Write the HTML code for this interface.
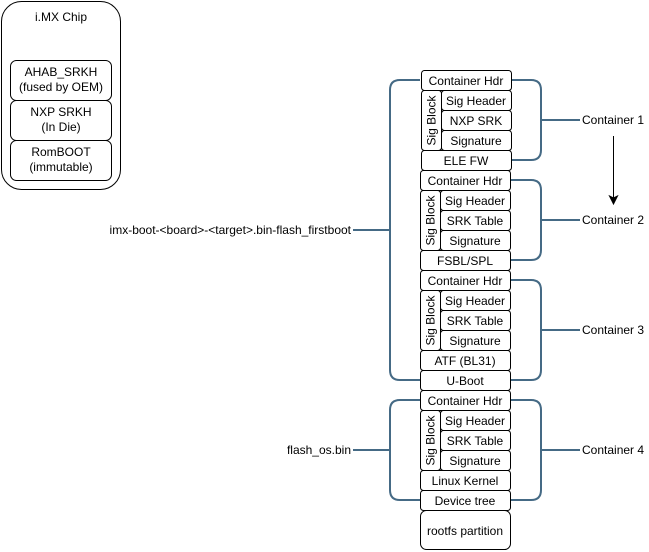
<!DOCTYPE html>
<html><head><meta charset="utf-8"><style>
html,body{margin:0;padding:0;background:#fff;}
svg{display:block;font-family:"Liberation Sans",Arial,sans-serif;font-size:12px;}
</style></head><body>
<svg width="649" height="552" viewBox="0 0 649 552" xmlns="http://www.w3.org/2000/svg">
<g fill="#fff" stroke="#000" stroke-width="1">
<rect x="1.5" y="1.5" width="119" height="188" rx="20"/>
<rect x="10.5" y="60.5" width="101" height="40" rx="6"/>
<rect x="10.5" y="100.5" width="101" height="40" rx="6"/>
<rect x="10.5" y="140.5" width="101" height="40" rx="6"/>
</g>
<g text-anchor="middle" fill="#000">
<text x="61" y="21">i.MX Chip</text>
<text x="61" y="76">AHAB_SRKH</text><text x="61" y="91">(fused by OEM)</text>
<text x="61" y="116">NXP SRKH</text><text x="61" y="131">(In Die)</text>
<text x="61" y="156">RomBOOT</text><text x="61" y="171">(immutable)</text>
</g>

<g fill="none" stroke="#456a85" stroke-width="2">
<path d="M420,80 H400 Q390,80 390,90 V370 Q390,380 400,380 H420"/>
<path d="M353,230 H390"/>
<path d="M420,400 H400 Q390,400 390,410 V490 Q390,500 400,500 H420"/>
<path d="M353,450 H390"/>
<path d="M512,80 H531 Q541,80 541,90 V150 Q541,160 531,160 H512"/><path d="M541,120 H580"/>
<path d="M511,180 H531 Q541,180 541,190 V250 Q541,260 531,260 H511"/><path d="M541,220 H580"/>
<path d="M511,280 H531 Q541,280 541,290 V370 Q541,380 531,380 H511"/><path d="M541,330 H580"/>
<path d="M511,400 H531 Q541,400 541,410 V490 Q541,500 531,500 H511"/><path d="M541,450 H580"/>
</g>

<g stroke="#000" fill="#000">
<line x1="613.5" y1="136" x2="613.5" y2="199"/>
<path d="M609.5,196 L613.5,204 L617.5,196 L613.5,198 Z"/>
</g>

<g fill="#000">
<text x="351" y="234" text-anchor="end">imx-boot-&lt;board&gt;-&lt;target&gt;.bin-flash_firstboot</text>
<text x="351" y="454" text-anchor="end">flash_os.bin</text>
<text x="582" y="124">Container 1</text>
<text x="582" y="224">Container 2</text>
<text x="582" y="334">Container 3</text>
<text x="582" y="454">Container 4</text>
</g>

<g fill="#fff" stroke="#000">
<!-- C1 -->
<rect x="421.5" y="70.5" width="90" height="20" rx="3"/>
<rect x="421.5" y="90.5" width="20" height="60" rx="3"/>
<rect x="441.5" y="90.5" width="70" height="20" rx="3"/>
<rect x="441.5" y="110.5" width="70" height="20" rx="3"/>
<rect x="441.5" y="130.5" width="70" height="20" rx="3"/>
<rect x="421.5" y="150.5" width="90" height="20" rx="3"/>
<!-- C2 -->
<rect x="420.5" y="170.5" width="90" height="20" rx="3"/>
<rect x="420.5" y="190.5" width="20" height="60" rx="3"/>
<rect x="440.5" y="190.5" width="70" height="20" rx="3"/>
<rect x="440.5" y="210.5" width="70" height="20" rx="3"/>
<rect x="440.5" y="230.5" width="70" height="20" rx="3"/>
<rect x="420.5" y="250.5" width="90" height="20" rx="3"/>
<!-- C3 -->
<rect x="420.5" y="270.5" width="90" height="20" rx="3"/>
<rect x="420.5" y="290.5" width="20" height="60" rx="3"/>
<rect x="440.5" y="290.5" width="70" height="20" rx="3"/>
<rect x="440.5" y="310.5" width="70" height="20" rx="3"/>
<rect x="440.5" y="330.5" width="70" height="20" rx="3"/>
<rect x="420.5" y="350.5" width="90" height="20" rx="3"/>
<rect x="420.5" y="370.5" width="90" height="20" rx="3"/>
<!-- C4 -->
<rect x="420.5" y="390.5" width="90" height="20" rx="3"/>
<rect x="420.5" y="410.5" width="20" height="60" rx="3"/>
<rect x="440.5" y="410.5" width="70" height="20" rx="3"/>
<rect x="440.5" y="430.5" width="70" height="20" rx="3"/>
<rect x="440.5" y="450.5" width="70" height="20" rx="3"/>
<rect x="420.5" y="470.5" width="90" height="20" rx="3"/>
<rect x="420.5" y="490.5" width="90" height="20" rx="3"/>
<rect x="420.5" y="510.5" width="90" height="39" rx="6"/>
</g>

<g fill="#000" text-anchor="middle">
<text x="466" y="85">Container Hdr</text>
<text x="476" y="105">Sig Header</text>
<text x="476" y="125">NXP SRK</text>
<text x="476" y="145">Signature</text>
<text x="466" y="165">ELE FW</text>
<text transform="translate(435.5,120.5) rotate(-90)">Sig Block</text>

<text x="465" y="185">Container Hdr</text>
<text x="475" y="205">Sig Header</text>
<text x="475" y="225">SRK Table</text>
<text x="475" y="245">Signature</text>
<text x="465" y="265">FSBL/SPL</text>
<text transform="translate(434.5,220.5) rotate(-90)">Sig Block</text>

<text x="465" y="285">Container Hdr</text>
<text x="475" y="305">Sig Header</text>
<text x="475" y="325">SRK Table</text>
<text x="475" y="345">Signature</text>
<text x="465" y="365">ATF (BL31)</text>
<text x="465" y="385">U-Boot</text>
<text transform="translate(434.5,320.5) rotate(-90)">Sig Block</text>

<text x="465" y="405">Container Hdr</text>
<text x="475" y="425">Sig Header</text>
<text x="475" y="445">SRK Table</text>
<text x="475" y="465">Signature</text>
<text x="465" y="485">Linux Kernel</text>
<text x="465" y="505">Device tree</text>
<text x="465" y="535">rootfs partition</text>
<text transform="translate(434.5,440.5) rotate(-90)">Sig Block</text>
</g>
</svg>
</body></html>
